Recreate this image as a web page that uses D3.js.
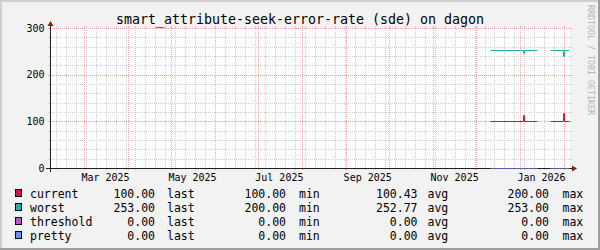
<!DOCTYPE html>
<html><head><meta charset="utf-8">
<script src="https://cdn.jsdelivr.net/npm/d3@7"></script>
<style>
html,body{margin:0;padding:0;background:#f2f2f2;}
svg{display:block;}
text{font-family:"DejaVu Sans Mono", monospace;}
</style></head><body>
<svg id="c" width="600" height="250"></svg>
<script>
const title = "smart_attribute-seek-error-rate (sde) on dagon";
const watermark = "RRDTOOL / TOBI OETIKER";
const timeDomain = ["2025-02-05", "2026-02-05"];
const sampleDates = ["2025-12-11","2026-01-03","2026-01-04","2026-01-13","2026-01-14","2026-01-22","2026-01-31","2026-02-01","2026-02-04"];
const currentValues = [100,114,100,100,null,100,118,100,100];
const worstValues = [253,246,253,253,null,253,241,253,253];
const thresholdValues = [0,0,0,0,null,0,0,0,0];
const prettyValues = [0,0,0,0,null,0,0,0,0];
const seriesNames = ["current","worst","threshold","pretty"];
const lastValues = [100,253,0,0];
const minValues = [100,200,0,0];
const avgValues = [100.43,252.77,0,0];
const maxValues = [200,253,0,0];
const statLabels = ["last","min","avg","max"];
const yTicks = [0,100,200,300];
const xLabelDates = ["2025-03-01","2025-05-01","2025-07-01","2025-09-01","2025-11-01","2026-01-01"];

const seriesColors = ["#dc143c","#20b2aa","#ba55d3","#6495ed"];
const allSeries = [currentValues, worstValues, thresholdValues, prettyValues];

const svg = d3.select("#c");
const parse = d3.utcParse("%Y-%m-%d");
const X0 = 50, X1 = 570, Y0 = 168, Y1 = 28;
const x = d3.scaleUtc().domain(timeDomain.map(parse)).range([X0, X1]);
const y = d3.scaleLinear().domain([0, 300]).range([Y0, Y1]);
const px = v => Math.round(v) + 0.5;

svg.append("rect").attr("width",600).attr("height",250).attr("fill","#f2f2f2");
svg.append("rect").attr("x",0).attr("y",0).attr("width",600).attr("height",2).attr("fill","#cfcfcf");
svg.append("rect").attr("x",0).attr("y",0).attr("width",2).attr("height",250).attr("fill","#cfcfcf");
svg.append("rect").attr("x",598).attr("y",0).attr("width",2).attr("height",250).attr("fill","#9e9e9e");
svg.append("rect").attr("x",0).attr("y",248).attr("width",600).attr("height",2).attr("fill","#9e9e9e");
svg.append("rect").attr("x",X0).attr("y",Y1).attr("width",X1-X0).attr("height",Y0-Y1).attr("fill","#ffffff");

const grid = svg.append("g");
const minorCol = "#cfcfcf", majorCol = "#f0a8a8";
function hline(yy, col) {
  grid.append("path").attr("d",`M${X0-2},${yy}H${X0}M${X1},${yy}H${X1+2}`).attr("stroke",col).attr("fill","none");
  grid.append("path").attr("d",`M${X0},${yy}H${X1}`).attr("stroke",col).attr("fill","none").attr("stroke-dasharray","1 1");
}
function vline(xx, col) {
  grid.append("path").attr("d",`M${xx},${Y0}V${Y0+2}M${xx},${Y1-2}V${Y1}`).attr("stroke",col).attr("fill","none");
  grid.append("path").attr("d",`M${xx},${Y1}V${Y0}`).attr("stroke",col).attr("fill","none").attr("stroke-dasharray","1 1");
}
const dom = x.domain();
const months = d3.utcMonth.range(dom[0], dom[1]);
const weeks = d3.utcSunday.range(dom[0], dom[1]);
y.ticks(15).filter(v => !yTicks.includes(v)).forEach(v => hline(px(y(v)), minorCol));
weeks.filter(d => d.getUTCDate() !== 1).forEach(d => vline(px(x(d)), minorCol));
yTicks.forEach(v => hline(px(y(v)), majorCol));
months.forEach(d => vline(px(x(d)), majorCol));

const dates = sampleDates.map(parse);
const line = d3.line()
  .defined(d => d.v != null)
  .x(d => px(x(d.t)))
  .y(d => px(y(d.v)))
  .curve(d3.curveStepAfter);
[0,1].forEach(i => {
  const pts = allSeries[i].map((v, k) => ({t: dates[k], v}));
  svg.append("path").attr("d", line(pts)).attr("fill","none").attr("stroke",seriesColors[i]).attr("stroke-width",1);
});

svg.append("path").attr("d",`M${X0-4},${px(Y0)}H${X1+2}`).attr("stroke","#1f1f1f").attr("fill","none");
svg.append("path").attr("d",`M${px(X0)},${Y0+4}V${Y1-2}`).attr("stroke","#1f1f1f").attr("fill","none");
svg.append("path").attr("d",`M${X1+2},${Y0-2.5}L${X1+7},${Y0+0.5}L${X1+2},${Y0+3.5}Z`).attr("fill","#7f1f1f");
svg.append("path").attr("d",`M${X0-2.5},${Y1-2}L${X0+0.5},${Y1-7}L${X0+3.5},${Y1-2}Z`).attr("fill","#7f1f1f");

[2,3].forEach(i => {
  const pts = allSeries[i].map((v, k) => ({t: dates[k], v}));
  svg.append("path").attr("d", line(pts)).attr("fill","none").attr("stroke",seriesColors[i]).attr("stroke-opacity",0.4).attr("stroke-width",1);
});

svg.append("g").selectAll("text").data(yTicks).join("text")
  .attr("x",44.5).attr("y",d => y(d) + 3.5)
  .attr("text-anchor","end").attr("font-size","10px").attr("fill","#000")
  .text(d => d);
const xFmt = d3.utcFormat("%b %Y");
svg.append("g").selectAll("text").data(xLabelDates.map(parse)).join("text")
  .attr("x", d => x(new Date(+d + 15*864e5)))
  .attr("y", 181)
  .attr("text-anchor","middle").attr("font-size","10px").attr("fill","#000")
  .text(d => xFmt(d));

svg.append("text").attr("x",300).attr("y",24).attr("text-anchor","middle")
  .attr("font-size","13.3px").attr("fill","#000").text(title);
svg.append("text").attr("transform","translate(588,5) rotate(90)")
  .attr("font-size","8.3px").attr("fill","#b5b5b5").text(watermark);

const f2 = d3.format(".2f");
const valueEnds = [155, 286, 417.5, 549];
const labelStarts = [167, 299, 427.5, 562.5];
const stats = [lastValues, minValues, avgValues, maxValues];
seriesNames.forEach((name, i) => {
  const base = 198 + i * 14;
  svg.append("rect").attr("x",15.5).attr("y",base-8.5).attr("width",6).attr("height",7)
    .attr("fill",seriesColors[i]).attr("stroke","#000").attr("stroke-width",1);
  svg.append("text").attr("x",30).attr("y",base).attr("font-size","11.5px").attr("fill","#000").text(name);
  stats.forEach((arr, j) => {
    svg.append("text").attr("x",valueEnds[j]).attr("y",base).attr("text-anchor","end")
      .attr("font-size","11.5px").attr("fill","#000").text(f2(arr[i]));
    svg.append("text").attr("x",labelStarts[j]).attr("y",base)
      .attr("font-size","11.5px").attr("fill","#000").text(statLabels[j]);
  });
});
</script>
</body></html>
